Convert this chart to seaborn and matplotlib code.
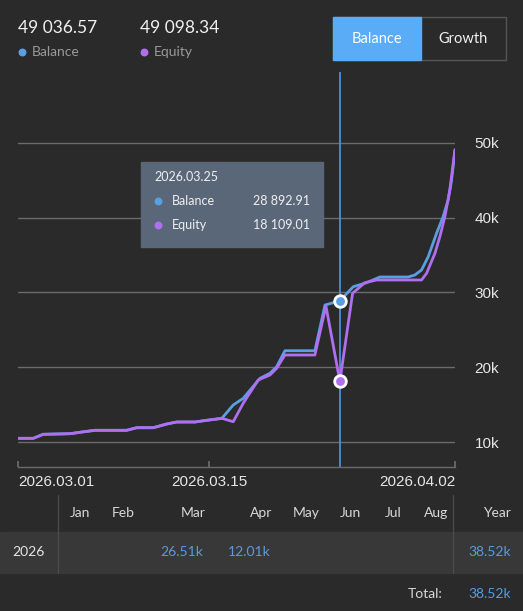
import numpy as np
import pandas as pd
import matplotlib
matplotlib.use("Agg")
import matplotlib.pyplot as plt
from matplotlib.patches import Rectangle
import seaborn as sns

# data (day offset from 2026.03.01, account value)
balance_day = [0, 1.12, 1.85, 3.81, 4.54, 5.64, 7.96, 8.69, 9.91, 10.89, 11.62, 12.96, 13.82,
               14.92, 15.76, 16.49, 17.72, 18.45, 18.94, 19.55, 21.74, 22.48, 23.08, 23.57,
               24.55, 25.53, 26.5, 28.57, 29.06, 29.55, 30.04, 30.65, 31.13, 31.5, 31.75, 32.0]
balance_val = [10495, 10495, 11030, 11110, 11300, 11565, 11565, 11910, 11910, 12405, 12675, 12675, 12900,
               13150, 14945, 15840, 18515, 19185, 20065, 22205, 22205, 28315, 28620, 28892.91,
               30760, 31300, 32060, 32060, 32325, 32995, 34770, 37900, 40120, 42355, 45025, 49036.57]
equity_day = [0, 1.12, 1.85, 3.81, 4.54, 5.64, 7.96, 8.69, 9.91, 10.89, 11.62, 12.96, 13.82,
              14.92, 15.76, 16.49, 17.59, 18.45, 18.94, 19.55, 21.74, 22.55, 23.57,
              24.5, 25.4, 26.26, 29.55, 29.92, 30.53, 30.89, 31.26, 31.62, 31.87, 32.0]
equity_val = [10495, 10495, 11030, 11110, 11300, 11565, 11565, 11910, 11910, 12405, 12675, 12675, 12900,
              13170, 12715, 15175, 18290, 18955, 19855, 21630, 21630, 28180, 18109.01,
              29880, 31300, 31660, 31660, 32555, 35225, 37445, 40120, 43690, 47260, 49098.34]

y_ticks = [10000, 20000, 30000, 40000, 50000]
y_labels = ["10k", "20k", "30k", "40k", "50k"]
x_ticks = [0, 14, 32]
x_labels = ["2026.03.01", "2026.03.15", "2026.04.02"]

cursor_day = 23.57
cursor_date = "2026.03.25"
cursor_balance = 28892.91
cursor_equity = 18109.01

months = ["Jan", "Feb", "Mar", "Apr", "May", "Jun", "Jul", "Aug"]
month_vals = ["", "", "26.51k", "12.01k", "", "", "", ""]
year_label = "2026"
year_total = "38.52k"
grand_total = "38.52k"

BG = "#2a2a2a"
BLUE = "#5b9fe3"
PURPLE = "#b06ff0"
GRID = "#6b6b6b"

W, H = 523, 611
sns.set_theme(style="dark")
plt.rcParams["font.family"] = ["Lato", "DejaVu Sans"]

fig = plt.figure(figsize=(W / 100, H / 100), dpi=100, facecolor=BG)


def fx(x):
    return x / W


def fy(y):
    return 1 - y / H


ax = fig.add_axes([fx(18), fy(467), fx(455) - fx(18), fy(72) - fy(467)])
ax.set_facecolor(BG)

for v in y_ticks:
    ax.axhline(v, color=GRID, lw=1, zorder=1)

df_b = pd.DataFrame({"day": balance_day, "value": balance_val})
df_e = pd.DataFrame({"day": equity_day, "value": equity_val})
sns.lineplot(data=df_b, x="day", y="value", color=BLUE, lw=2, ax=ax, zorder=3)
sns.lineplot(data=df_e, x="day", y="value", color=PURPLE, lw=2, ax=ax, zorder=4)

ax.axvline(cursor_day, color="#4a8fd8", lw=1.3, zorder=2)
ax.scatter([cursor_day], [cursor_balance], s=70, color=BLUE, edgecolor="white", linewidth=2, zorder=6)
ax.scatter([cursor_day], [cursor_equity], s=70, color=PURPLE, edgecolor="white", linewidth=2, zorder=6)

ax.set_xlim(0, 32)
ax.set_ylim(6658, 59465)
ax.set_xlabel("")
ax.set_ylabel("")
for s in ["top", "left", "right"]:
    ax.spines[s].set_visible(False)
ax.spines["bottom"].set_color(GRID)
ax.spines["bottom"].set_linewidth(1)
ax.yaxis.tick_right()
ax.set_yticks(y_ticks)
ax.set_yticklabels(y_labels)
ax.tick_params(axis="y", length=0, pad=14)
ax.set_xticks(x_ticks)
ax.set_xticklabels(x_labels)
ax.tick_params(axis="x", length=4, color=GRID, direction="in", pad=6, bottom=True)
for t in ax.get_xticklabels() + ax.get_yticklabels():
    t.set_fontfamily(["Liberation Sans", "DejaVu Sans"])
    t.set_fontsize(11)
    t.set_color("#e6e6e6")
lbls = ax.get_xticklabels()
lbls[0].set_ha("left")
lbls[-1].set_ha("right")
ax.grid(False)

# tooltip
ax_bg = fig.add_axes([0, 0, 1, 1], zorder=10)
ax_bg.set_xlim(0, W)
ax_bg.set_ylim(H, 0)
ax_bg.axis("off")
ax_bg.patch.set_alpha(0)
ax_bg.add_patch(Rectangle((141, 162), 182, 85, color="#5a6778", zorder=1))
ax_bg.text(154, 177, cursor_date, color="#f0f0f0", fontsize=9, va="center")
ax_bg.scatter([158], [201], s=22, color=BLUE, zorder=3)
ax_bg.text(172, 201, "Balance", color="#f0f0f0", fontsize=9, va="center")
ax_bg.text(310, 201, f"{cursor_balance:,.2f}".replace(",", " "), color="#f0f0f0", fontsize=9, va="center", ha="right")
ax_bg.scatter([158], [225], s=22, color=PURPLE, zorder=3)
ax_bg.text(172, 225, "Equity", color="#f0f0f0", fontsize=9, va="center")
ax_bg.text(310, 225, f"{cursor_equity:,.2f}".replace(",", " "), color="#f0f0f0", fontsize=9, va="center", ha="right")

# header values
ax_bg.text(18, 28, f"{balance_val[-1]:,.2f}".replace(",", " "), color="#f0f0f0", fontsize=12.5, va="center")
ax_bg.scatter([22], [52], s=22, color=BLUE)
ax_bg.text(32, 52, "Balance", color="#9a9a9a", fontsize=10, va="center")
ax_bg.text(140, 28, f"{equity_val[-1]:,.2f}".replace(",", " "), color="#f0f0f0", fontsize=12.5, va="center")
ax_bg.scatter([144], [52], s=22, color=PURPLE)
ax_bg.text(154, 52, "Equity", color="#9a9a9a", fontsize=10, va="center")

# toggle buttons
ax_bg.add_patch(Rectangle((333, 17), 173, 43, facecolor="none", edgecolor="#555555", lw=1))
ax_bg.add_patch(Rectangle((333, 17), 88, 43, facecolor="#5aacf7", edgecolor="#5aacf7", lw=1))
ax_bg.text(377, 39, "Balance", color="white", fontsize=10.5, ha="center", va="center")
ax_bg.text(463, 39, "Growth", color="#f0f0f0", fontsize=10.5, ha="center", va="center")

# monthly table
ax_bg.add_patch(Rectangle((0, 532), W, 41, color="#383838", zorder=0))
ax_bg.plot([58, 58], [495, 573], color="#4a4a4a", lw=1)
ax_bg.plot([453, 453], [495, 573], color="#4a4a4a", lw=1)
month_x = [80, 123, 193, 261, 306, 350, 393, 436]
for m, v, x in zip(months, month_vals, month_x):
    ax_bg.text(x, 513, m, color="#d8d8d8", fontsize=10, ha="center", va="center")
ax_bg.text(511, 513, "Year", color="#d8d8d8", fontsize=10, ha="right", va="center")
ax_bg.text(12, 552, year_label, color="#e6e6e6", fontsize=10, va="center")
val_x = {"Mar": 203, "Apr": 271}
for m, v in zip(months, month_vals):
    if v:
        ax_bg.text(val_x[m], 552, v, color="#5b9bdc", fontsize=10, ha="right", va="center")
ax_bg.text(511, 552, year_total, color="#5b9bdc", fontsize=10, ha="right", va="center")
ax_bg.text(443, 594, "Total:", color="#d8d8d8", fontsize=10, ha="right", va="center")
ax_bg.text(511, 594, grand_total, color="#5b9bdc", fontsize=10, ha="right", va="center")

fig.savefig("out.png", dpi=100, facecolor=BG)
